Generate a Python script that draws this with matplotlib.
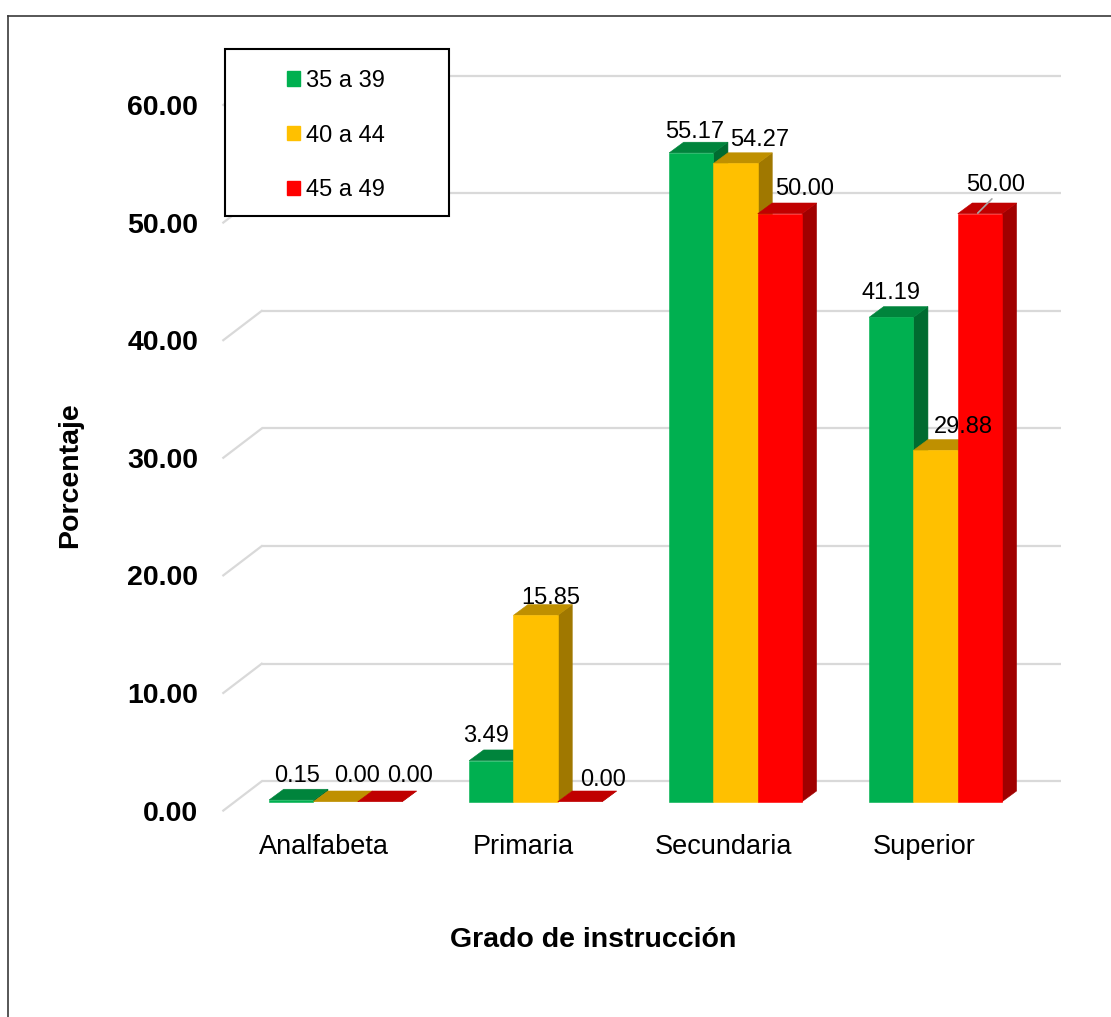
import matplotlib
matplotlib.use("Agg")
import matplotlib.pyplot as plt
from matplotlib.patches import Polygon, Rectangle, Patch
from matplotlib.lines import Line2D

plt.rcParams["font.family"] = ["Liberation Sans", "DejaVu Sans"]

# --- data ---
categories = ["Analfabeta", "Primaria", "Secundaria", "Superior"]
series_names = ["35 a 39", "40 a 44", "45 a 49"]
vals_35_39 = [0.15, 3.49, 55.17, 41.19]
vals_40_44 = [0.00, 15.85, 54.27, 29.88]
vals_45_49 = [0.00, 0.00, 50.00, 50.00]
y_ticks = [0, 10, 20, 30, 40, 50, 60]

series_vals = [vals_35_39, vals_40_44, vals_45_49]

# --- style ---
front_colors = ["#00B050", "#FFC000", "#FF0000"]
top_colors = ["#00843C", "#BF9000", "#C00000"]
side_colors = ["#006B30", "#A07800", "#A00000"]
grid_color = "#D9D9D9"

# 3D look (in data units: 1 category = 200 px, 1 value unit = 11.76 px)
PX_X, PX_Y = 200.0, 11.76
bar_w = 44.3 / PX_X
ddx, ddy = 14.5 / PX_X, 10.7 / PX_Y          # bar depth
wall_back_x = -0.3695                          # back wall, left end
wall_right_x = 3.6255
depth_x, depth_y = 0.192, 2.49                 # side wall depth
back_dy = 1.735                                # back wall offset above bar base
front_dy = back_dy - depth_y                   # floor front edge
cat_dx = -0.059

# label nudges in pixels (x, y above bar back-top)
label_dx = [[-1, 14, 23], [-13, 8, 16], [-4, 17, 17], [-8, 21, 9]]
label_dy = [[13, 15, 15], [14, 7, 11], [10, 13, 14], [14, 13, 18]]

fig = plt.figure(figsize=(11.11, 10.17), dpi=100)
ax = fig.add_axes([215 / 1111, 1 - 820 / 1017, 860 / 1111, 780 / 1017])
ax.set_xlim(-0.603, 3.697)
ax.set_ylim((801.7 - 820) / PX_Y, (801.7 - 40) / PX_Y)
for s in ax.spines.values():
    s.set_visible(False)

# walls: gridlines on the back and side
for v in y_ticks:
    yb = v + back_dy
    ax.plot([wall_back_x, wall_right_x], [yb, yb], color=grid_color, lw=1.6, zorder=1,
            solid_capstyle="butt")
    ax.plot([wall_back_x - depth_x, wall_back_x], [yb - depth_y, yb], color=grid_color,
            lw=1.6, zorder=1)

# bars
for i in range(len(categories)):
    for j, vals in enumerate(series_vals):
        v = vals[i]
        x0 = i - 1.5 * bar_w + j * bar_w
        z = 2 + j
        side = Polygon([(x0 + bar_w, 0), (x0 + bar_w + ddx, ddy),
                        (x0 + bar_w + ddx, v + ddy), (x0 + bar_w, v)],
                       closed=True, fc=side_colors[j], ec=side_colors[j], lw=0.4, zorder=z)
        top = Polygon([(x0, v), (x0 + ddx, v + ddy), (x0 + bar_w + ddx, v + ddy),
                       (x0 + bar_w, v)],
                      closed=True, fc=top_colors[j], ec=top_colors[j], lw=0.4, zorder=z)
        ax.add_patch(side)
        ax.add_patch(top)
        if v > 0:
            ax.bar(x0, v, width=bar_w, align="edge", color=front_colors[j],
                   edgecolor=front_colors[j], lw=0.4, zorder=z)

        lbl_xy = (x0 + bar_w / 2 + ddx / 2, v + ddy)
        if i == 3 and j == 2:
            # label with a short leader line
            ax.annotate(f"{v:.2f}", xy=(x0 + 0.1, v + 0.05), xytext=(18, 28),
                        textcoords="offset pixels", ha="center", va="center",
                        fontsize=17, zorder=10,
                        arrowprops=dict(arrowstyle="-", color="#A6A6A6", lw=1.2,
                                        shrinkA=0, shrinkB=0, relpos=(0.5, 0.05)))
        else:
            ax.annotate(f"{v:.2f}", xy=lbl_xy,
                        xytext=(label_dx[i][j], label_dy[i][j]),
                        textcoords="offset pixels", ha="center", va="center",
                        fontsize=17, zorder=10)

# axes ticks
ax.set_yticks([v + front_dy for v in y_ticks], [f"{v:.2f}" for v in y_ticks],
              fontsize=20.5, fontweight="bold")
ax.set_xticks([i + cat_dx for i in range(len(categories))], categories, fontsize=19.5)
ax.tick_params(axis="y", length=0, pad=12)
ax.tick_params(axis="x", length=0, pad=10)

fig.text(70 / 1111, 1 - 475 / 1017, "Porcentaje", rotation=90, ha="center", va="center",
         fontsize=20.5, fontweight="bold")
fig.text(593 / 1111, 1 - 940 / 1017, "Grado de instrucción", ha="center", va="center",
         fontsize=20.5, fontweight="bold")

# legend box + entries
fig.add_artist(Rectangle((225 / 1111, 1 - 216 / 1017), 224 / 1111, 167 / 1017,
                         transform=fig.transFigure, fc="white", ec="black", lw=1.5, zorder=4))
handles = [Patch(facecolor=c, edgecolor=c) for c in front_colors]
fig.legend(handles, series_names, loc="upper left",
           bbox_to_anchor=(287 / 1111, 1 - 70 / 1017), frameon=False, fontsize=17,
           handlelength=0.56, handleheight=0.56, handletextpad=0.25, labelspacing=1.38,
           borderpad=0, borderaxespad=0)

# outer frame (top and left)
fig.add_artist(Line2D([8 / 1111, 1], [1 - 16 / 1017] * 2, transform=fig.transFigure,
                      color="#3a3a3a", lw=1.2))
fig.add_artist(Line2D([8 / 1111] * 2, [0, 1 - 16 / 1017], transform=fig.transFigure,
                      color="#3a3a3a", lw=1.2))

fig.savefig("out.png", dpi=100)
